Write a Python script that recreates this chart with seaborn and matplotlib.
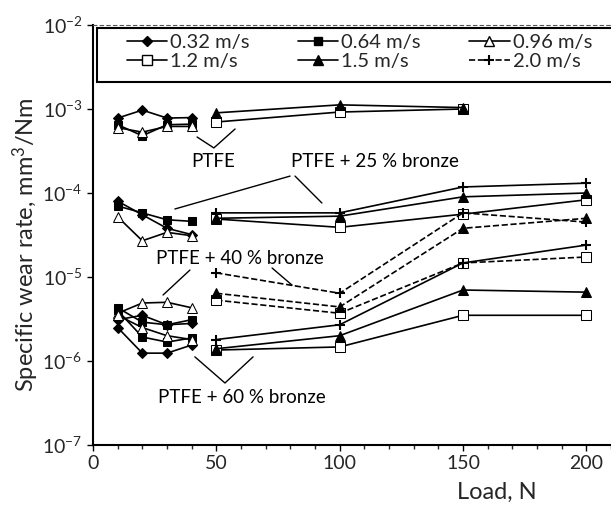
import numpy as np
import pandas as pd
import matplotlib
matplotlib.use("Agg")
import matplotlib.pyplot as plt
import seaborn as sns
from matplotlib.lines import Line2D
from matplotlib.patches import Rectangle
from matplotlib.ticker import FixedLocator, MultipleLocator, NullLocator

# loads (N)
loads_low = [10, 20, 30, 40]
loads_high = [50, 100, 150, 200]
loads_ptfe = [50, 100, 150]

# pure PTFE
ptfe_032 = [7.8e-4, 9.7e-4, 7.8e-4, 7.9e-4]
ptfe_064 = [6.5e-4, 4.8e-4, 6.5e-4, 6.6e-4]
ptfe_096 = [6.0e-4, 5.3e-4, 6.2e-4, 6.2e-4]
ptfe_12 = [7.0e-4, 9.2e-4, 1.0e-3]
ptfe_15 = [9.0e-4, 1.12e-3, 1.04e-3]

# PTFE + 25 % bronze
b25_032 = [8.0e-5, 5.5e-5, 3.8e-5, 3.2e-5]
b25_064 = [7.0e-5, 5.8e-5, 4.8e-5, 4.6e-5]
b25_096 = [5.2e-5, 2.7e-5, 3.4e-5, 3.1e-5]
b25_12 = [4.9e-5, 3.9e-5, 5.6e-5, 8.3e-5]
b25_15 = [5.0e-5, 5.3e-5, 9.0e-5, 1.0e-4]
b25_20 = [5.8e-5, 5.8e-5, 1.18e-4, 1.31e-4]

# PTFE + 40 % bronze
b40_032 = [3.1e-6, 3.5e-6, 2.7e-6, 2.8e-6]
b40_064 = [4.3e-6, 2.9e-6, 2.7e-6, 3.1e-6]
b40_096 = [3.7e-6, 4.9e-6, 5.0e-6, 4.3e-6]
b40_12 = [5.3e-6, 3.7e-6, 1.47e-5, 1.73e-5]
b40_15 = [6.4e-6, 4.4e-6, 3.8e-5, 5.0e-5]
b40_20 = [1.12e-5, 6.4e-6, 5.8e-5, 4.5e-5]

# PTFE + 60 % bronze
b60_032 = [2.5e-6, 1.24e-6, 1.24e-6, 1.55e-6]
b60_064 = [4.0e-6, 1.93e-6, 1.68e-6, 1.88e-6]
b60_096 = [3.5e-6, 2.5e-6, 2.0e-6, 1.8e-6]
b60_12 = [1.35e-6, 1.47e-6, 3.5e-6, 3.5e-6]
b60_15 = [1.4e-6, 2.0e-6, 7.0e-6, 6.6e-6]
b60_20 = [1.8e-6, 2.7e-6, 1.47e-5, 2.4e-5]

speed_labels = ["0.32 m/s", "0.64 m/s", "0.96 m/s", "1.2 m/s", "1.5 m/s", "2.0 m/s"]
ytick_vals = [1e-7, 1e-6, 1e-5, 1e-4, 1e-3, 1e-2]
ytick_text = [r"$10^{-7}$", r"$10^{-6}$", r"$10^{-5}$", r"$10^{-4}$", r"$10^{-3}$", r"$10^{-2}$"]

sns.set_style("ticks")
plt.rcParams["font.family"] = ["Lato", "DejaVu Sans"]
plt.rcParams["mathtext.fontset"] = "custom"
plt.rcParams["mathtext.rm"] = "Lato"
plt.rcParams["mathtext.it"] = "Lato:italic"

# marker style per speed
styles = {
    "0.32 m/s": dict(marker="D", markersize=5, markerfacecolor="black"),
    "0.64 m/s": dict(marker="s", markersize=6, markerfacecolor="black"),
    "0.96 m/s": dict(marker="^", markersize=7, markerfacecolor="white"),
    "1.2 m/s": dict(marker="s", markersize=6.5, markerfacecolor="white"),
    "1.5 m/s": dict(marker="^", markersize=7, markerfacecolor="black"),
    "2.0 m/s": dict(marker="+", markersize=7, markeredgewidth=1.5),
}

series = [
    (loads_low, ptfe_032, "0.32 m/s", "-"),
    (loads_low, ptfe_064, "0.64 m/s", "-"),
    (loads_low, ptfe_096, "0.96 m/s", "-"),
    (loads_ptfe, ptfe_12, "1.2 m/s", "-"),
    (loads_ptfe, ptfe_15, "1.5 m/s", "-"),
    (loads_low, b25_032, "0.32 m/s", "-"),
    (loads_low, b25_064, "0.64 m/s", "-"),
    (loads_low, b25_096, "0.96 m/s", "-"),
    (loads_high, b25_12, "1.2 m/s", "-"),
    (loads_high, b25_15, "1.5 m/s", "-"),
    (loads_high, b25_20, "2.0 m/s", "-"),
    (loads_low, b40_032, "0.32 m/s", "-"),
    (loads_low, b40_064, "0.64 m/s", "-"),
    (loads_low, b40_096, "0.96 m/s", "-"),
    (loads_high, b40_12, "1.2 m/s", "--"),
    (loads_high, b40_15, "1.5 m/s", "--"),
    (loads_high, b40_20, "2.0 m/s", "--"),
    (loads_low, b60_032, "0.32 m/s", "-"),
    (loads_low, b60_064, "0.64 m/s", "-"),
    (loads_low, b60_096, "0.96 m/s", "-"),
    (loads_high, b60_12, "1.2 m/s", "-"),
    (loads_high, b60_15, "1.5 m/s", "-"),
    (loads_high, b60_20, "2.0 m/s", "-"),
]

fig = plt.figure(figsize=(6.11, 5.07), dpi=100)
ax = fig.add_axes([0.1522, 0.1223, 0.8478, 0.8284])

for x, y, spd, ls in series:
    sns.lineplot(x=x, y=y, ax=ax, color="black", linewidth=1.2, linestyle=ls,
                 markeredgecolor="black", sort=False, legend=False, **styles[spd])

ax.set_yscale("log")
ax.set_ylim(1e-7, 1e-2)
ax.set_xlim(0, 210)
ax.yaxis.set_major_locator(FixedLocator(ytick_vals))
ax.yaxis.set_minor_locator(NullLocator())
ax.set_yticklabels(ytick_text)
ax.set_xticks([0, 50, 100, 150, 200])
ax.xaxis.set_minor_locator(MultipleLocator(10))
ax.tick_params(axis="both", which="major", labelsize=14, length=4, width=1, color="black")
ax.tick_params(axis="x", which="minor", length=3, width=1)

for s in ["left", "bottom"]:
    ax.spines[s].set_linewidth(1.5)
    ax.spines[s].set_color("black")
ax.spines["right"].set_visible(False)
ax.spines["top"].set_linestyle((0, (3, 3)))
ax.spines["top"].set_linewidth(0.8)
ax.spines["top"].set_color("#555555")

ax.set_xlabel("Load, N", fontsize=17)
ax.xaxis.set_label_coords(0.78, -0.088)
ax.set_ylabel("Specific wear rate, mm$^3$/Nm", fontsize=17)
ax.yaxis.set_label_coords(-0.100, 0.476)

# group annotations
txt = dict(fontsize=13.5, ha="center", va="center", color="black")
ax.text(48.6, 2.34e-4, "PTFE", **txt)
ax.plot([42.2, 49.0, 57.6], [4.64e-4, 3.44e-4, 5.78e-4], color="black", lw=1)
ax.text(114.3, 2.34e-4, "PTFE + 25 % bronze", **txt)
ax.plot([33.2, 79.9], [6.45e-5, 1.59e-4], color="black", lw=1)
ax.plot([81.9, 92.8], [1.59e-4, 7.6e-5], color="black", lw=1)
ax.text(59.6, 1.68e-5, "PTFE + 40 % bronze", **txt)
ax.plot([39.3, 28.4], [1.21e-5, 6.1e-6], color="black", lw=1)
ax.plot([72.6, 80.7], [1.28e-5, 8.0e-6], color="black", lw=1)
ax.text(60.4, 3.72e-7, "PTFE + 60 % bronze", **txt)
ax.plot([41.3, 53.5, 64.9], [1.12e-6, 5.47e-7, 1.12e-6], color="black", lw=1)

# legend frame drawn separately so the entries can sit inset like the original
ax.add_patch(Rectangle((0.0077, 0.864), 1.0, 0.129, transform=ax.transAxes,
                       facecolor="white", edgecolor="black", linewidth=1.5,
                       zorder=4, clip_on=False))

handles = []
for spd in speed_labels:
    ls = "--" if spd == "2.0 m/s" else "-"
    handles.append(Line2D([], [], color="black", linewidth=1.2, linestyle=ls,
                          markeredgecolor="black", label=spd, **styles[spd]))
order = [0, 3, 1, 4, 2, 5]
leg = ax.legend([handles[i] for i in order], [speed_labels[i] for i in order],
                ncol=3, loc="upper left", bbox_to_anchor=(0.0656, 0.978),
                fontsize=14.5, frameon=False, handlelength=2.0,
                handletextpad=0.15, borderpad=0.0, borderaxespad=0.0,
                labelspacing=0.1, columnspacing=2.4)
leg.set_zorder(5)

fig.savefig("out.png", dpi=100)
